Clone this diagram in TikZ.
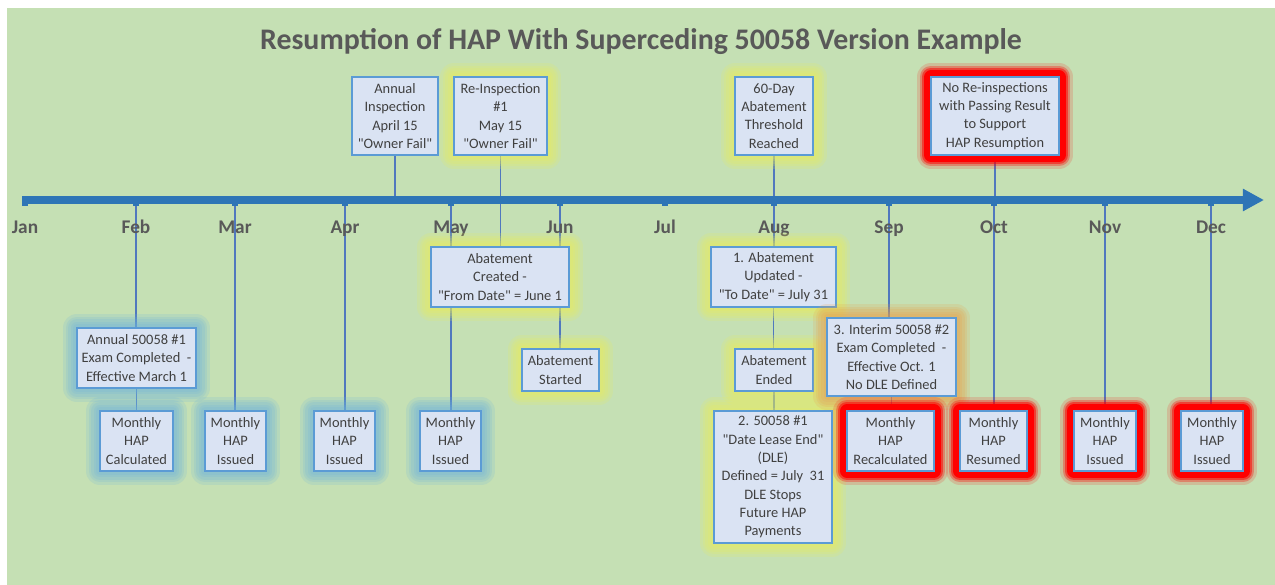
\documentclass[tikz,border=0pt]{standalone}
\usepackage{fontspec}
\setmainfont{Carlito}
\usepackage{tikz}
\usetikzlibrary{arrows.meta}
\tikzset{>={Triangle[length=12pt, width=12pt]}}
\newcommand{\qt}[1]{\textquotedbl#1\textquotedbl}
\definecolor{mygreen}{RGB}{197, 224, 180}
\definecolor{myboxfill}{RGB}{218, 227, 243}
\definecolor{myboxline}{RGB}{91, 155, 213}
\definecolor{mytext}{RGB}{64, 64, 64}
\definecolor{mytitle}{RGB}{89, 89, 89}
\definecolor{myblue}{RGB}{46, 117, 182}
\definecolor{mystem}{RGB}{80, 120, 190}
\definecolor{myyellow}{RGB}{235, 238, 90}
\definecolor{mycyan}{RGB}{110, 180, 220}
\definecolor{myorange}{RGB}{235, 160, 70}
\definecolor{myred}{RGB}{255, 0, 0}
\pgfdeclarelayer{back}
\pgfdeclarelayer{stems}
\pgfsetlayers{back,stems,main}
\tikzset{
  box/.style = {draw = myboxline, line width = 0.8pt, fill = myboxfill, text = mytext,
    align = center, inner sep = 0pt, font = \fontsize{8.2}{10.4}\selectfont},
  halo/.style = {preaction = {draw = #1, draw opacity = 0.18, line width = 16pt, line join = round},
    preaction = {draw = #1, draw opacity = 0.18, line width = 13pt, line join = round},
    preaction = {draw = #1, draw opacity = 0.18, line width = 10pt, line join = round},
    preaction = {draw = #1, draw opacity = 0.18, line width = 7pt, line join = round},
    preaction = {draw = #1, draw opacity = 0.18, line width = 4pt, line join = round}},
  redhalo/.style = {preaction = {draw = myred, draw opacity = 0.15, line width = 16pt, line join = round},
    preaction = {draw = myred, draw opacity = 0.3, line width = 13pt, line join = round},
    preaction = {draw = myred, draw opacity = 0.5, line width = 10.5pt, line join = round},
    preaction = {draw = myred, line width = 7.5pt, line join = round}},
  stem/.style = {mystem, line width = 0.6pt},
  tline/.style = {myblue, line width = 4pt},
  month/.style = {anchor = base, text = mytitle, font = \fontsize{11}{13}\selectfont\bfseries}
}

\begin{document}
\begin{tikzpicture}[x = 0.02cm, y = -0.02cm]
\useasboundingbox (0, 0) rectangle (1275, 585);
\begin{pgfonlayer}{back}
\fill[white] (0, 0) rectangle (1275, 585);
\fill[mygreen] (7, 8) rectangle (1275, 585);
\end{pgfonlayer}
\node[anchor = base, text = mytitle, font = \fontsize{17}{20}\selectfont\bfseries] (title) at (641, 49)
  {Resumption of HAP With Superceding 50058 Version Example};

\coordinate (tl-start) at (22, 200);
\coordinate (tl-end) at (1264, 200);
\draw[->, tline] (tl-start) -- (tl-end);
\foreach \x/\m in {25/Jan, 136/Feb, 235/Mar, 345/Apr, 451/May, 560/Jun, 665/Jul, 774/Aug, 889/Sep, 994/Oct, 1105/Nov, 1211/Dec} {
  \coordinate (t-\m) at (\x, 200);
  \fill[myblue] (\x-3, 197) rectangle (\x+3, 206);
  \node[month] (l-\m) at (\x, 233) {\m};
}

\node[box, minimum width = 1.72cm, minimum height = 1.56cm] (insp) at (395, 116)
  {Annual\\Inspection\\April 15\\\qt{Owner Fail}};
\node[box, halo = myyellow, minimum width = 1.86cm, minimum height = 1.56cm] (reinsp) at (500.5, 116)
  {Re-Inspection\\\#1\\May 15\\\qt{Owner Fail}};
\node[box, halo = myyellow, minimum width = 1.56cm, minimum height = 1.56cm] (sixty) at (774, 116)
  {60-Day\\Abatement\\Threshold\\Reached};
\node[box, redhalo, minimum width = 2.56cm, minimum height = 1.56cm] (nore) at (995, 116)
  {No Re-inspections\\with Passing Result\\to Support\\HAP Resumption};

\node[box, halo = mycyan, minimum width = 2.38cm, minimum height = 1.2cm] (exam1) at (136.5, 358)
  {Annual 50058 \#1\\Exam Completed\ \ -\\Effective March 1};
\node[box, halo = mycyan, minimum width = 1.46cm, minimum height = 1.2cm] (calc) at (136.5, 441)
  {Monthly\\HAP\\Calculated};
\node[box, halo = mycyan, minimum width = 1.22cm, minimum height = 1.2cm] (mar) at (235.5, 441)
  {Monthly\\HAP\\Issued};
\node[box, halo = mycyan, minimum width = 1.22cm, minimum height = 1.2cm] (apr) at (344.5, 441)
  {Monthly\\HAP\\Issued};
\node[box, halo = mycyan, minimum width = 1.22cm, minimum height = 1.2cm] (may) at (450.5, 441)
  {Monthly\\HAP\\Issued};
\node[box, halo = myyellow, minimum width = 2.76cm, minimum height = 1.2cm] (created) at (500, 277)
  {Abatement\\Created -\\\qt{From Date} = June 1};
\node[box, halo = myyellow, minimum width = 1.54cm, minimum height = 0.84cm] (started) at (560.5, 370)
  {Abatement\\Started};

\node[box, halo = myyellow, minimum width = 2.5cm, minimum height = 1.2cm] (updated) at (773.5, 277)
  {1. Abatement\\Updated -\\\qt{To Date} = July 31};
\node[box, halo = myyellow, minimum width = 1.56cm, minimum height = 0.84cm] (ended) at (774, 370)
  {Abatement\\Ended};
\node[box, halo = myyellow, minimum width = 2.36cm, minimum height = 2.64cm] (dle) at (773, 477)
  {2. 50058 \#1\\\qt{Date Lease End}\\(DLE)\\Defined = July\ \ 31\\DLE Stops\\Future HAP\\Payments};
\node[box, halo = myorange, minimum width = 2.58cm, minimum height = 1.56cm] (interim) at (891.5, 357)
  {3. Interim 50058 \#2\\Exam Completed\ \ -\\Effective Oct. 1\\No DLE Defined};
\node[box, redhalo, minimum width = 1.74cm, minimum height = 1.2cm] (recalc) at (890.5, 441)
  {Monthly\\HAP\\Recalculated};
\node[box, redhalo, minimum width = 1.34cm, minimum height = 1.2cm] (resumed) at (993.5, 441)
  {Monthly\\HAP\\Resumed};
\node[box, redhalo, minimum width = 1.24cm, minimum height = 1.2cm] (nov) at (1105, 441)
  {Monthly\\HAP\\Issued};
\node[box, redhalo, minimum width = 1.24cm, minimum height = 1.2cm] (dec) at (1212, 441)
  {Monthly\\HAP\\Issued};

\begin{pgfonlayer}{stems}
\draw[stem] (insp.south) -- (insp.south |- t-Jan);
\draw[stem] (reinsp.south) -- (reinsp.south |- created.north);
\draw[stem] (sixty.south) -- (sixty.south |- updated.north);
\draw[stem] (nore.south) -- (nore.south |- t-Jan);
\draw[stem] (t-Feb) -- (t-Feb |- exam1.north);
\draw[stem] (exam1.south) -- (exam1.south |- calc.north);
\draw[stem] (t-Mar) -- (t-Mar |- mar.north);
\draw[stem] (t-Apr) -- (t-Apr |- apr.north);
\draw[stem] (t-May) -- (t-May |- may.north);
\draw[stem] (t-Jun) -- (t-Jun |- started.north);
\draw[stem] (updated.south) -- (updated.south |- ended.north);
\draw[stem] (ended.south) -- (ended.south |- dle.north);
\draw[stem] (t-Sep) -- (t-Sep |- interim.north);
\draw[stem] (interim.south) -- (interim.south |- recalc.north);
\draw[stem] (t-Oct) -- (t-Oct |- resumed.north);
\draw[stem] (t-Nov) -- (t-Nov |- nov.north);
\draw[stem] (t-Dec) -- (t-Dec |- dec.north);
\end{pgfonlayer}
\end{tikzpicture}
\end{document}
